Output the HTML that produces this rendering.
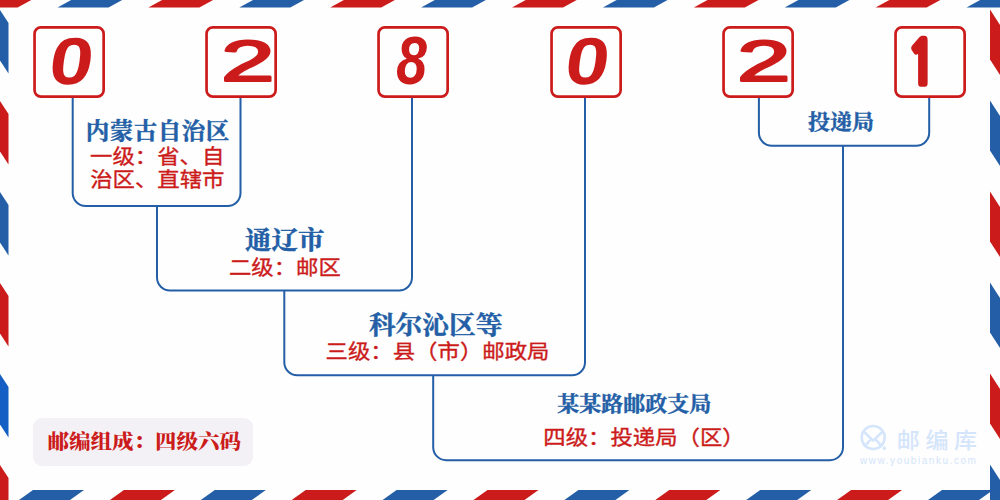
<!DOCTYPE html>
<html lang="zh-CN">
<head>
<meta charset="utf-8">
<title>028021 邮编组成：四级六码</title>
<style>
html,body{margin:0;padding:0;background:#fdfefd;}
body{width:1000px;height:500px;overflow:hidden;}
svg{display:block;}
.tt{font-family:"Liberation Serif","Noto Serif CJK SC",serif;font-weight:700;fill:#235ea6;stroke:#235ea6;stroke-width:0.45px;}
.sb{font-family:"Liberation Sans","Noto Sans CJK SC",sans-serif;font-weight:400;fill:#cc1b1b;stroke:#cc1b1b;stroke-width:0.4px;}
.lb{font-family:"Liberation Serif","Noto Serif CJK SC",serif;font-weight:900;fill:#cc1b1b;}
.dg{font-family:"Liberation Sans",sans-serif;font-weight:700;font-style:italic;fill:#cc1b1b;}
.wm{font-family:"Liberation Sans","Noto Sans CJK SC",sans-serif;font-weight:500;}
.wu{font-family:"Liberation Sans","Noto Sans CJK SC",sans-serif;font-weight:400;}
</style>
</head>
<body>
<svg width="1000" height="500" viewBox="0 0 1000 500">
<rect x="0" y="0" width="1000" height="500" fill="#fdfefd"/>
<polygon fill="#cc1b1b" points="-33.4,7.6 17.6,7.6 31.3,0 -19.7,0"/>
<polygon fill="#235ea6" points="57.5,7.6 108.5,7.6 122.2,0 71.2,0"/>
<polygon fill="#cc1b1b" points="148.4,7.6 199.4,7.6 213.1,0 162.1,0"/>
<polygon fill="#235ea6" points="239.3,7.6 290.3,7.6 304.0,0 253.0,0"/>
<polygon fill="#cc1b1b" points="330.2,7.6 381.2,7.6 394.9,0 343.9,0"/>
<polygon fill="#235ea6" points="421.1,7.6 472.1,7.6 485.8,0 434.8,0"/>
<polygon fill="#cc1b1b" points="512.0,7.6 563.0,7.6 576.7,0 525.7,0"/>
<polygon fill="#235ea6" points="602.9,7.6 653.9,7.6 667.6,0 616.6,0"/>
<polygon fill="#cc1b1b" points="693.8,7.6 744.8,7.6 758.5,0 707.5,0"/>
<polygon fill="#235ea6" points="784.7,7.6 835.7,7.6 849.4,0 798.4,0"/>
<polygon fill="#cc1b1b" points="875.6,7.6 926.6,7.6 940.3,0 889.3,0"/>
<polygon fill="#235ea6" points="966.5,7.6 1017.5,7.6 1031.2,0 980.2,0"/>
<polygon fill="#cc1b1b" points="-57.9,490 -6.9,490 -20.9,500 -71.9,500"/>
<polygon fill="#235ea6" points="33.0,490 84.0,490 70.0,500 19.0,500"/>
<polygon fill="#cc1b1b" points="123.9,490 174.9,490 160.9,500 109.9,500"/>
<polygon fill="#235ea6" points="214.8,490 265.8,490 251.8,500 200.8,500"/>
<polygon fill="#cc1b1b" points="305.7,490 356.7,490 342.7,500 291.7,500"/>
<polygon fill="#235ea6" points="396.6,490 447.6,490 433.6,500 382.6,500"/>
<polygon fill="#cc1b1b" points="487.5,490 538.5,490 524.5,500 473.5,500"/>
<polygon fill="#235ea6" points="578.4,490 629.4,490 615.4,500 564.4,500"/>
<polygon fill="#cc1b1b" points="669.3,490 720.3,490 706.3,500 655.3,500"/>
<polygon fill="#235ea6" points="760.2,490 811.2,490 797.2,500 746.2,500"/>
<polygon fill="#cc1b1b" points="851.1,490 902.1,490 888.1,500 837.1,500"/>
<polygon fill="#235ea6" points="942.0,490 993.0,490 979.0,500 928.0,500"/>
<polygon fill="#cc1b1b" points="0,-81.0 8.5,-68.0 8.5,-17.5 0,-30.5"/>
<polygon fill="#235ea6" points="0,10.0 8.5,23.0 8.5,73.5 0,60.5"/>
<polygon fill="#cc1b1b" points="0,101.0 8.5,114.0 8.5,164.5 0,151.5"/>
<polygon fill="#235ea6" points="0,192.0 8.5,205.0 8.5,255.5 0,242.5"/>
<polygon fill="#cc1b1b" points="0,283.0 8.5,296.0 8.5,346.5 0,333.5"/>
<polygon fill="#155ec3" points="0,374.0 8.5,387.0 8.5,437.5 0,424.5"/>
<polygon fill="#cc1b1b" points="0,465.0 8.5,478.0 8.5,528.5 0,515.5"/>
<polygon fill="#235ea6" points="990,-81.5 1000,-66.0 1000,-16.0 990,-31.5"/>
<polygon fill="#cc1b1b" points="990,9.5 1000,25.0 1000,75.0 990,59.5"/>
<polygon fill="#235ea6" points="990,100.5 1000,116.0 1000,166.0 990,150.5"/>
<polygon fill="#cc1b1b" points="990,191.5 1000,207.0 1000,257.0 990,241.5"/>
<polygon fill="#235ea6" points="990,282.5 1000,298.0 1000,348.0 990,332.5"/>
<polygon fill="#cc1b1b" points="990,373.5 1000,389.0 1000,439.0 990,423.5"/>
<polygon fill="#235ea6" points="990,464.5 1000,480.0 1000,530.0 990,514.5"/>
<path d="M72.7,97 V193 A13,13 0 0 0 85.7,206 H227.5 A13,13 0 0 0 240.5,193 V97 M157,206 V277.5 A13,13 0 0 0 170,290.5 H399 A13,13 0 0 0 412,277.5 V97 M284.3,290.5 V362.3 A13,13 0 0 0 297.3,375.3 H572 A13,13 0 0 0 585,362.3 V97 M433.2,375.3 V447.2 A13,13 0 0 0 446.2,460.2 H830 A13,13 0 0 0 843,447.2 V145.8 M758.9,97 V132.8 A13,13 0 0 0 771.9,145.8 H916.2 A13,13 0 0 0 929.2,132.8 V97" fill="none" stroke="#235ea6" stroke-width="2"/>
<rect x="34.55" y="27.4" width="69.1" height="69.2" rx="6.3" ry="6.3" fill="#fdfefd" stroke="#cc1b1b" stroke-width="2.7"/>
<rect x="206.55" y="27.4" width="69.1" height="69.2" rx="6.3" ry="6.3" fill="#fdfefd" stroke="#cc1b1b" stroke-width="2.7"/>
<rect x="378.55" y="27.4" width="69.1" height="69.2" rx="6.3" ry="6.3" fill="#fdfefd" stroke="#cc1b1b" stroke-width="2.7"/>
<rect x="551.55" y="27.4" width="69.1" height="69.2" rx="6.3" ry="6.3" fill="#fdfefd" stroke="#cc1b1b" stroke-width="2.7"/>
<rect x="723.55" y="27.4" width="69.1" height="69.2" rx="6.3" ry="6.3" fill="#fdfefd" stroke="#cc1b1b" stroke-width="2.7"/>
<rect x="895.55" y="27.4" width="69.1" height="69.2" rx="6.3" ry="6.3" fill="#fdfefd" stroke="#cc1b1b" stroke-width="2.7"/>
<text transform="translate(46.84,83.64) scale(1.177,1) skewX(-7)" font-family="'Liberation Sans','Liberation Sans',sans-serif" font-weight="700" font-style="normal" font-size="66.38" fill="#cc1b1b" stroke="#cc1b1b" stroke-width="0" stroke-linejoin="round" vector-effect="non-scaling-stroke">0</text>
<text transform="translate(220.89,80.50) scale(1.672,1) skewX(0)" font-family="'Liberation Sans','Liberation Sans',sans-serif" font-weight="400" font-style="normal" font-size="57.57" fill="#cc1b1b" stroke="#cc1b1b" stroke-width="3.0" stroke-linejoin="round" vector-effect="non-scaling-stroke">2</text>
<text transform="translate(396.17,84.32) scale(0.811,1) skewX(0)" font-family="'Liberation Sans','Liberation Sans',sans-serif" font-weight="700" font-style="italic" font-size="68.03" fill="#cc1b1b" stroke="#cc1b1b" stroke-width="0" stroke-linejoin="round" vector-effect="non-scaling-stroke">8</text>
<text transform="translate(562.84,83.64) scale(1.177,1) skewX(-7)" font-family="'Liberation Sans','Liberation Sans',sans-serif" font-weight="700" font-style="normal" font-size="66.38" fill="#cc1b1b" stroke="#cc1b1b" stroke-width="0" stroke-linejoin="round" vector-effect="non-scaling-stroke">0</text>
<text transform="translate(736.89,80.50) scale(1.672,1) skewX(0)" font-family="'Liberation Sans','Liberation Sans',sans-serif" font-weight="400" font-style="normal" font-size="57.57" fill="#cc1b1b" stroke="#cc1b1b" stroke-width="3.0" stroke-linejoin="round" vector-effect="non-scaling-stroke">2</text>
<text transform="translate(907.26,84.40) scale(0.798,1) skewX(0)" font-family="'NanumGothic','Liberation Sans',sans-serif" font-weight="700" font-style="normal" font-size="60.13" fill="#cc1b1b" stroke="#cc1b1b" stroke-width="5.0" stroke-linejoin="round" vector-effect="non-scaling-stroke">1</text>
<text class="tt" transform="translate(157.8,139.3) scale(1,0.95)" font-size="23.5" letter-spacing="0.5" text-anchor="middle">内蒙古自治区</text>
<text class="sb" transform="translate(157.2,164.3) scale(1,0.91)" font-size="22.4" text-anchor="middle">一级：省、自</text>
<text class="sb" transform="translate(157.3,187) scale(1,0.91)" font-size="22.4" text-anchor="middle">治区、直辖市</text>
<text class="tt" transform="translate(284.8,249) scale(1,0.95)" font-size="26.5" letter-spacing="0" text-anchor="middle">通辽市</text>
<text class="sb" transform="translate(284.9,275) scale(1,0.91)" font-size="22.4" text-anchor="middle">二级：邮区</text>
<text class="tt" transform="translate(435.6,334) scale(1,0.95)" font-size="26.7" letter-spacing="0" text-anchor="middle">科尔沁区等</text>
<text class="sb" transform="translate(437.5,359) scale(1,0.91)" font-size="22.4" text-anchor="middle">三级：县（市）邮政局</text>
<text class="tt" transform="translate(634.3,410.5) scale(1,0.95)" font-size="22" letter-spacing="0" text-anchor="middle">某某路邮政支局</text>
<text class="sb" transform="translate(644,445.3) scale(1,0.91)" font-size="22.4" text-anchor="middle">四级：投递局（区）</text>
<text class="tt" transform="translate(841,129) scale(1,0.95)" font-size="22" letter-spacing="0" text-anchor="middle">投递局</text>
<rect x="33" y="418" width="220" height="48" rx="9" ry="9" fill="#f3f1f5"/>
<text class="lb" transform="translate(144.2,449.3) scale(1,0.93)" font-size="21.5" text-anchor="middle">邮编组成：四级六码</text>
<g fill="none" stroke="#d5e5fb" stroke-width="2.5" stroke-linejoin="round" stroke-linecap="round"><circle cx="873.2" cy="437.4" r="11.5"/><path d="M864.2,432 L873.2,440.6 L882.2,432 M865,446 L870.2,440 M881.4,446 L876.2,440"/></g>
<circle cx="884.4" cy="448.2" r="1.7" fill="#d5e5fb"/>
<text class="wm" transform="translate(896.8,447.6) scale(1,0.95)" font-size="23" fill="#d5e5fb" letter-spacing="5.6">邮编库</text>
<text class="wu" x="860" y="463.7" font-size="10" fill="#d5e5fb" letter-spacing="1.55">www.youbianku.com</text>
</svg>
</body>
</html>
